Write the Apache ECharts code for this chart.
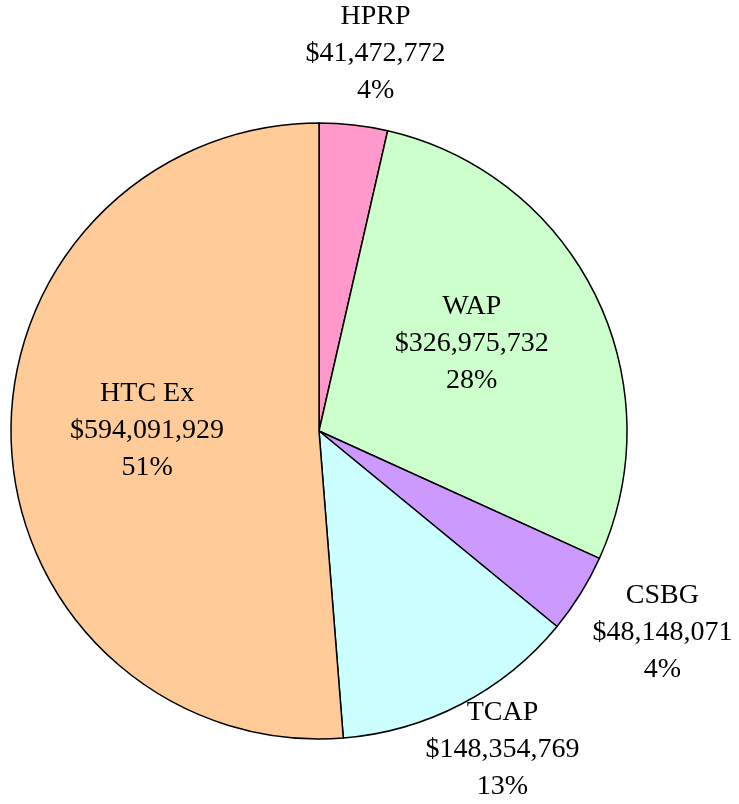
<!DOCTYPE html>
<html lang="en">
<head>
    <meta charset="UTF-8">
    <title>Funding by program</title>
    <style>
        html, body { margin: 0; padding: 0; background: #fff; }
        #chart { width: 739px; height: 804px; }
    </style>
</head>
<body>
    <div id="chart"></div>

    <script src="https://cdn.jsdelivr.net/npm/echarts@6/dist/echarts.min.js"></script>
    <script>
        // data
        var programs = ['HPRP', 'WAP', 'CSBG', 'TCAP', 'HTC Ex'];
        var amounts = [41472772, 326975732, 48148071, 148354769, 594091929];
        var colors = ['#FF99CC', '#CCFFCC', '#CC99FF', '#CCFFFF', '#FFCC99'];
        // which labels sit outside the pie, and nudges for each label
        var outside = [true, false, true, true, false];
        var nudges = [[22, -71], [12, -18], [82, 39], [41, 46], [-15, -7]];

        var myChart = echarts.init(document.getElementById('chart'));

        var pieData = [];
        for (let i = 0; i < programs.length; i++) {
            pieData.push({
                name: programs[i],
                value: amounts[i],
                itemStyle: { color: colors[i] },
                label: { position: outside[i] ? 'outside' : 'inside' }
            });
        }

        var option = {
            animation: false,
            series: [{
                type: 'pie',
                center: [319, 431],
                radius: 308,
                startAngle: 90,
                clockwise: true,
                avoidLabelOverlap: false,
                percentPrecision: 0,
                itemStyle: {
                    borderColor: '#000',
                    borderWidth: 1.5
                },
                label: {
                    show: true,
                    color: '#000',
                    fontFamily: 'Liberation Serif',
                    fontSize: 28,
                    lineHeight: 37,
                    distanceToLabelLine: 0,
                    formatter: function (p) {
                        return p.name + '\n$' + p.value.toLocaleString('en-US') + '\n' + p.percent + '%';
                    }
                },
                labelLine: { show: false, length: 0, length2: 0 },
                labelLayout: function (params) {
                    var n = nudges[params.dataIndex];
                    return { align: 'center', verticalAlign: 'middle', dx: n[0], dy: n[1] };
                },
                emphasis: { disabled: true },
                data: pieData
            }]
        };
        myChart.setOption(option);
    </script>
</body>
</html>
